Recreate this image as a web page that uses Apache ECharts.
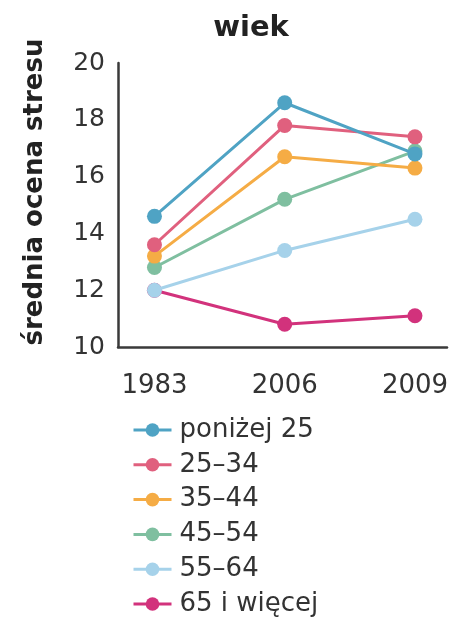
<!DOCTYPE html>
<html>
<head>
<meta charset="utf-8">
<script src="https://cdn.jsdelivr.net/npm/echarts@6/dist/echarts.min.js"></script>
<style>
  html, body { margin: 0; padding: 0; background: #fff; }
  #chart { width: 454px; height: 618px; }
</style>
</head>
<body>
<div id="chart"></div>
<script>
// Survey years on the horizontal axis
const years = ['1983', '2006', '2009'];

// Mean stress score per age group
const groupNames = ['poniżej 25', '25–34', '35–44', '45–54', '55–64', '65 i więcej'];
const under25 = [14.6, 18.6, 16.8];
const age25to34 = [13.6, 17.8, 17.4];
const age35to44 = [13.2, 16.7, 16.3];
const age45to54 = [12.8, 15.2, 16.9];
const age55to64 = [12.0, 13.4, 14.5];
const age65plus = [12.0, 10.8, 11.1];

const groupColors = ['#4fa3c4', '#e0607e', '#f5ac45', '#7fbfa0', '#a6d2ea', '#d2327c'];

const yTicks = [10, 12, 14, 16, 18, 20];

const seriesValues = [under25, age25to34, age35to44, age45to54, age55to64, age65plus];

const FONT = '"DejaVu Sans", sans-serif';
const INK = '#333';

const chart = echarts.init(document.getElementById('chart'));

chart.setOption({
  animation: false,
  backgroundColor: '#fff',
  title: {
    text: 'wiek',
    left: 246,
    textAlign: 'center',
    top: 9,
    textStyle: { fontFamily: FONT, fontSize: 29, fontWeight: 'bold', color: '#222' }
  },
  // vertical axis title
  graphic: [{
    type: 'text',
    x: 35,
    y: 192,
    rotation: Math.PI / 2,
    style: {
      text: 'średnia ocena stresu',
      fontFamily: FONT,
      fontSize: 26,
      fontWeight: 'bold',
      fill: '#222',
      align: 'center',
      verticalAlign: 'middle'
    }
  }],
  grid: { left: 118, right: 7, top: 63, bottom: 271, containLabel: false },
  xAxis: {
    type: 'value',
    min: -0.28,
    max: 2.246,
    splitLine: { show: false },
    axisLine: { show: true, onZero: false, lineStyle: { color: '#3a3a3a', width: 2.5 } },
    axisTick: { show: false },
    axisLabel: {
      customValues: years.map((_, i) => i),
      formatter: v => years[Math.round(v)],
      margin: 26,
      fontFamily: FONT,
      fontSize: 26,
      color: INK,
      showMinLabel: true,
      showMaxLabel: true
    }
  },
  yAxis: {
    type: 'value',
    min: yTicks[0],
    max: yTicks[yTicks.length - 1],
    interval: 2,
    splitLine: { show: false },
    axisLine: { show: true, onZero: false, lineStyle: { color: '#3a3a3a', width: 2.5 } },
    axisTick: { show: false },
    axisLabel: {
      margin: 13,
      fontFamily: FONT,
      fontSize: 25,
      color: INK
    }
  },
  legend: {
    orient: 'vertical',
    left: 132,
    top: 416,
    padding: 0,
    height: 230,
    itemWidth: 38,
    itemHeight: 17,
    itemGap: 6.8,
    data: groupNames,
    lineStyle: { width: 3 },
    textStyle: { fontFamily: FONT, fontSize: 26, color: INK, lineHeight: 28, padding: [0, 0, 0, 3] }
  },
  series: groupNames.map((name, i) => ({
    name: name,
    type: 'line',
    data: seriesValues[i].map((v, j) => [j, v]),
    symbol: 'circle',
    symbolSize: 15,
    color: groupColors[i],
    lineStyle: { width: 3, color: groupColors[i] },
    itemStyle: { color: groupColors[i] },
    z: 2 + (groupNames.length - i)
  }))
});
</script>
</body>
</html>
